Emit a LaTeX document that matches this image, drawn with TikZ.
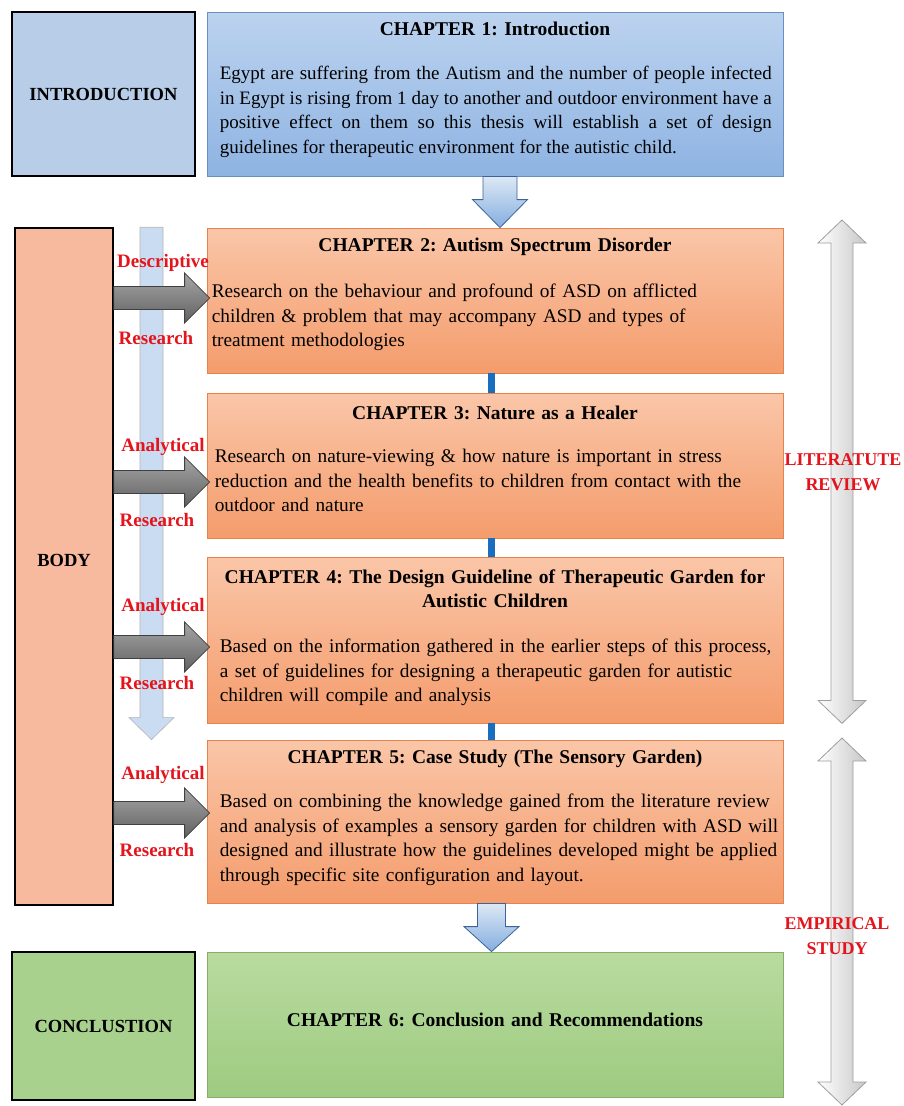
\documentclass[tikz,border=0pt]{standalone}
\usepackage{fontspec}
\setmainfont{Liberation Serif}
\frenchspacing
\usetikzlibrary{positioning,calc}
\definecolor{introblue}{HTML}{B8CDE8}
\definecolor{chblueA}{HTML}{BCD3EF}
\definecolor{chblueB}{HTML}{8EB3E2}
\definecolor{chblueline}{HTML}{6A8FC4}
\definecolor{bodyorange}{HTML}{F8BA9E}
\definecolor{chorangeA}{HTML}{FAC6A8}
\definecolor{chorangeB}{HTML}{F49C6C}
\definecolor{chorangeline}{HTML}{E6834C}
\definecolor{conclgreen}{HTML}{A9D18E}
\definecolor{chgreenA}{HTML}{B9DB9F}
\definecolor{chgreenB}{HTML}{9DCB80}
\definecolor{chgreenline}{HTML}{86AE68}
\definecolor{labred}{HTML}{E3141C}
\definecolor{linkblue}{HTML}{1A6EC0}
\definecolor{arrowblueA}{HTML}{DDE8F5}
\definecolor{arrowblueB}{HTML}{84AEDF}
\definecolor{arrowblueline}{HTML}{3D6399}
\definecolor{sideblue}{HTML}{CADCF1}
% block arrows: style, start, tip, half shaft, half head, head length
\newcommand{\blockdown}[6]{%
  \draw[#1] let \p1=#2, \p2=#3 in
    (\x2-#4,\y1) -- (\x2+#4,\y1) -- (\x2+#4,\y2+#6) -- (\x2+#5,\y2+#6) -- (\x2,\y2)
    -- (\x2-#5,\y2+#6) -- (\x2-#4,\y2+#6) -- cycle;}
\newcommand{\blockright}[6]{%
  \draw[#1] let \p1=#2, \p2=#3 in
    (\x1,\y2+#4) -- (\x2-#6,\y2+#4) -- (\x2-#6,\y2+#5) -- (\x2,\y2)
    -- (\x2-#6,\y2-#5) -- (\x2-#6,\y2-#4) -- (\x1,\y2-#4) -- cycle;}
\newcommand{\blockboth}[6]{%
  \draw[#1] let \p1=#2, \p2=#3 in
    (\x1,\y1) -- (\x1+#5,\y1-#6) -- (\x1+#4,\y1-#6) -- (\x1+#4,\y2+#6) -- (\x1+#5,\y2+#6)
    -- (\x1,\y2) -- (\x1-#5,\y2+#6) -- (\x1-#4,\y2+#6) -- (\x1-#4,\y1-#6) -- (\x1-#5,\y1-#6) -- cycle;}

\begin{document}
\begin{tikzpicture}[x=1pt, y=-1pt,
    partlab/.style={inner sep=0pt, font=\fontsize{18.5}{22}\selectfont\bfseries},
    part/.style={partlab, draw=black, line width=1.5pt, minimum width=183pt},
    chbox/.style={draw, line width=0.8pt, minimum width=576pt, inner sep=0pt},
    bluebox/.style={chbox, draw=chblueline, top color=chblueA, bottom color=chblueB},
    orangebox/.style={chbox, draw=chorangeline, top color=chorangeA, bottom color=chorangeB},
    greenbox/.style={chbox, draw=chgreenline, top color=chgreenA, bottom color=chgreenB},
    chtitle/.style={anchor=base, align=center, inner sep=0pt, text width=576pt,
      font=\fontsize{19.5}{23.5}\selectfont\bfseries},
    chtext/.style={anchor=base west, align=left, inner sep=0pt, text width=640pt,
      font=\fontsize{19.3}{24.5}\selectfont},
    redlab/.style={text=labred, inner sep=0pt, font=\fontsize{19}{22}\selectfont\bfseries},
    sidelab/.style={text=labred, align=center, inner sep=0pt,
      font=\fontsize{18}{25}\selectfont\bfseries},
    bluearr/.style={draw=arrowblueline, line width=0.8pt, top color=arrowblueA, bottom color=arrowblueB},
    grayarr/.style={draw=black!75, line width=0.8pt, top color=black!35, bottom color=black!62},
    sidearr/.style={draw=black!30, line width=0.6pt, fill=sideblue},
    spanarr/.style={draw=black!38, line width=0.8pt, left color=white, right color=black!22},
    link/.style={draw=linkblue, line width=7pt}]
  \useasboundingbox (0,0) rectangle (904,1106);
  % parts of the thesis
  \node[part, fill=introblue, minimum height=164pt] (intro) at (103.5,94) {INTRODUCTION};
  \node[part, fill=bodyorange, minimum width=98pt, minimum height=677pt] (body) at (64,566.5) {};
  \node[partlab] (bodylab) at ([yshift=6pt]body.center) {BODY};
  \node[part, fill=conclgreen, minimum height=148pt] (concl) at (103.5,1026) {CONCLUSTION};
  % chapters
  \node[bluebox, minimum height=164pt] (ch1) at (495,94) {};
  \node[orangebox, minimum height=145pt] (ch2) at (495,300.5) {};
  \node[orangebox, minimum height=145pt] (ch3) at (495,465.5) {};
  \node[orangebox, minimum height=166pt] (ch4) at (495,640) {};
  \node[orangebox, minimum height=163pt] (ch5) at (495,821.5) {};
  \node[greenbox, minimum height=145pt] (ch6) at (495,1024.5) {};
  \node[chtitle] (t1) at ([yshift=-24pt]ch1.north) {CHAPTER 1: Introduction};
  \node[chtext, text width=552pt, align=justify, font=\fontsize{19}{24.5}\selectfont] (b1)
    at ([xshift=13pt,yshift=-68pt]ch1.north west)
    {Egypt are suffering from the Autism and the number of people infected\linebreak
     in Egypt is rising from 1 day to another and outdoor environment have a\linebreak
     positive effect on them so this thesis will establish a set of design\linebreak
     guidelines for therapeutic environment for the autistic child.};
  \node[chtitle] (t2) at ([yshift=-24pt]ch2.north) {CHAPTER 2: Autism Spectrum Disorder};
  \node[chtext] (b2) at ([xshift=5pt,yshift=-70pt]ch2.north west)
    {Research on the behaviour and profound of ASD on afflicted\\
     children \& problem that may accompany ASD and types of\\
     treatment methodologies};
  \node[chtitle] (t3) at ([yshift=-27pt]ch3.north) {CHAPTER 3: Nature as a Healer};
  \node[chtext] (b3) at ([xshift=8pt,yshift=-70pt]ch3.north west)
    {Research on nature-viewing \& how nature is important in stress\\
     reduction and the health benefits to children from contact with the\\
     outdoor and nature};
  \node[chtitle] (t4) at ([yshift=-27pt]ch4.north)
    {CHAPTER 4: The Design Guideline of Therapeutic Garden for\\Autistic Children};
  \node[chtext] (b4) at ([xshift=13pt,yshift=-96pt]ch4.north west)
    {Based on the information gathered in the earlier steps of this process,\\
     a set of guidelines for designing a therapeutic garden for autistic\\
     children will compile and analysis};
  \node[chtitle] (t5) at ([yshift=-24pt]ch5.north) {CHAPTER 5: Case Study (The Sensory Garden)};
  \node[chtext] (b5) at ([xshift=13pt,yshift=-68pt]ch5.north west)
    {Based on combining the knowledge gained from the literature review\\
     and analysis of examples a sensory garden for children with ASD will\\
     designed and illustrate how the guidelines developed might be applied\\
     through specific site configuration and layout.};
  \node[chtitle] (t6) at ([yshift=-1.5pt]ch6.center) {CHAPTER 6: Conclusion and Recommendations};
  % flow between chapters
  \blockdown{bluearr}{([xshift=5pt]ch1.south)}{([xshift=5pt]ch2.north)}{17pt}{27.5pt}{28pt}
  \draw[link] ([xshift=-4pt]ch2.south) -- ([xshift=-4pt]ch3.north);
  \draw[link] ([xshift=-4pt]ch3.south) -- ([xshift=-4pt]ch4.north);
  \draw[link] ([xshift=-4pt]ch4.south) -- ([xshift=-4pt]ch5.north);
  \blockdown{bluearr}{([xshift=-3.5pt]ch5.south)}{([xshift=-3.5pt]ch6.north)}{14pt}{27.5pt}{25pt}
  % research type arrows
  \coordinate (side) at ([xshift=87.5pt]body.north);
  \blockdown{sidearr}{(side)}{(side |- ch5.north)}{11.5pt}{22.5pt}{22pt}
  \blockright{grayarr}{(body.east)}{([xshift=3pt,yshift=2.5pt]ch2.west)}{11.5pt}{25pt}{25pt}
  \blockright{grayarr}{(body.east)}{([xshift=3pt,yshift=-16.5pt]ch3.west)}{11.5pt}{25pt}{25pt}
  \blockright{grayarr}{(body.east)}{([xshift=3pt,yshift=-7pt]ch4.west)}{11.5pt}{25pt}{25pt}
  \blockright{grayarr}{(body.east)}{([xshift=3pt,yshift=8.5pt]ch5.west)}{11.5pt}{25pt}{25pt}
  \node[redlab] (d2) at (163,263) {Descriptive};
  \node[redlab] (r2) at (156,338) {Research};
  \node[redlab] (a3) at (163,447) {Analytical};
  \node[redlab] (r3) at (157,520) {Research};
  \node[redlab] (a4) at (163,607) {Analytical};
  \node[redlab] (r4) at (157,683) {Research};
  \node[redlab] (a5) at (163,775) {Analytical};
  \node[redlab] (r5) at (157,850) {Research};
  % study spans
  \coordinate (lr) at (842,220);
  \blockboth{spanarr}{(lr)}{(lr |- ch4.south)}{11pt}{24pt}{23pt}
  \coordinate (es) at (842,738);
  \blockboth{spanarr}{(es)}{(842,1105)}{11pt}{24pt}{23pt}
  \node[sidelab] (lit) at (843,472) {LITERATUTE\\REVIEW};
  \node[sidelab] (emp) at (837,936) {EMPIRICAL\\STUDY};
\end{tikzpicture}
\end{document}
